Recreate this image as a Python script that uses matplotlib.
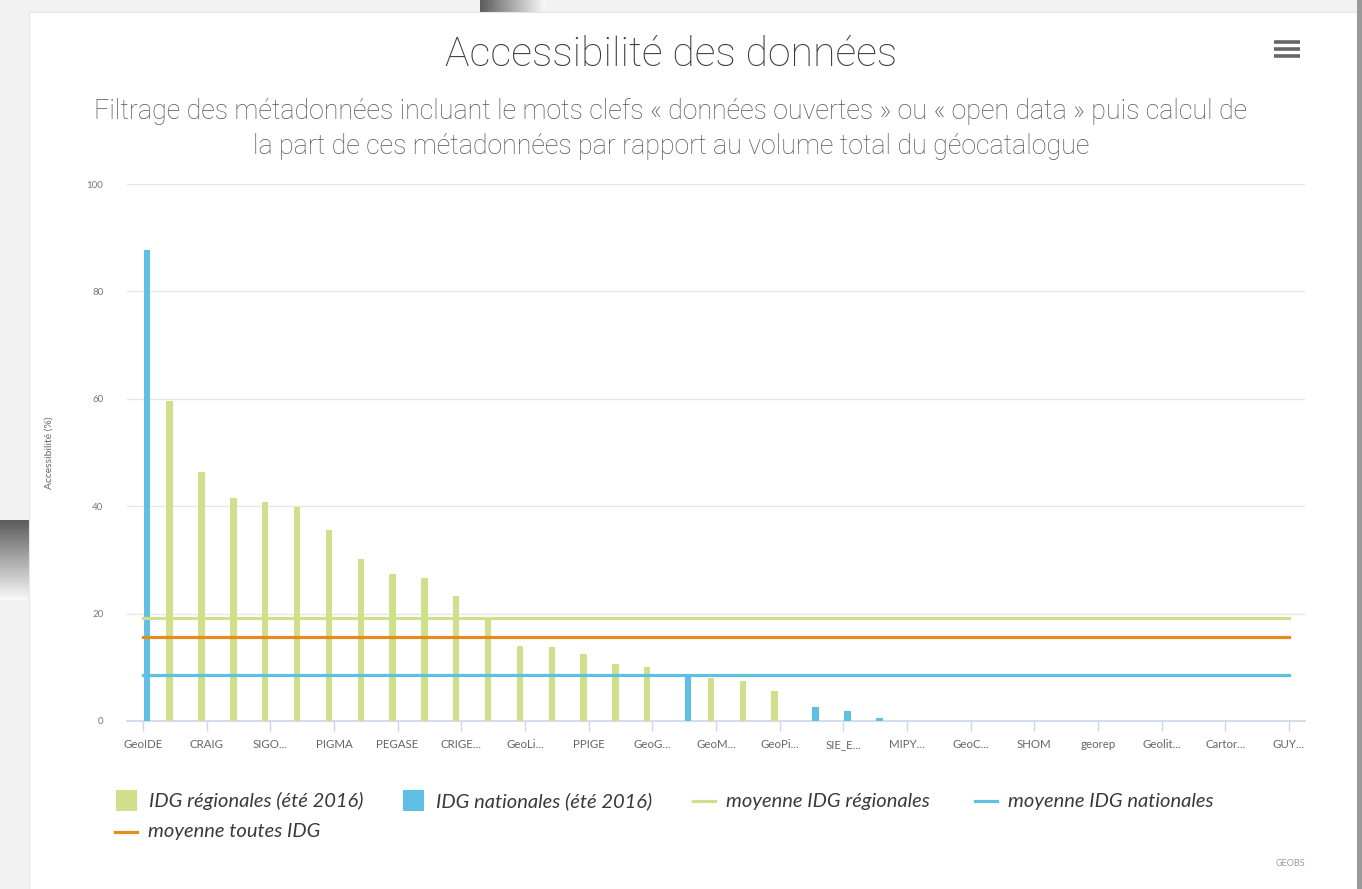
import numpy as np
import matplotlib.pyplot as plt
from matplotlib.patches import Rectangle
from matplotlib.lines import Line2D

plt.rcParams['font.family'] = ['Lato', 'DejaVu Sans']

# every other category label is shown on the axis (Highcharts step 2)
shown_labels = ['GeoIDE', 'CRAIG', 'SIGO...', 'PIGMA', 'PEGASE', 'CRIGE...', 'GeoLi...',
                'PPIGE', 'GeoG...', 'GeoM...', 'GeoPi...', 'SIE_E...', 'MIPY...', 'GeoC...',
                'SHOM', 'georep', 'Geolit...', 'Cartor...', 'GUY...']
n_cat = 37

# accessibility (%) per geocatalogue, nan where the IDG is of the other kind
regional = [np.nan, 59.6, 46.4, 41.6, 40.8, 39.8, 35.6, 30.2, 27.4, 26.7, 23.2, 19.4,
            13.9, 13.8, 12.5, 10.6, 10.1, np.nan, 8.0, 7.5, 5.6, np.nan, np.nan, np.nan,
            0, 0, 0, 0, 0, 0, np.nan, np.nan, np.nan, np.nan, np.nan, np.nan, np.nan]
national = [87.7, np.nan, np.nan, np.nan, np.nan, np.nan, np.nan, np.nan, np.nan, np.nan,
            np.nan, np.nan, np.nan, np.nan, np.nan, np.nan, np.nan, 8.5, np.nan, np.nan,
            np.nan, 2.7, 1.9, 0.5, np.nan, np.nan, np.nan, np.nan, np.nan, np.nan,
            0, 0, 0, 0, 0, 0, 0]
mean_regional = 19.1
mean_national = 8.6
mean_all = 15.7

green = '#cfe08b'
blue = '#5fc0e4'
orange = '#e58c1f'

W, H = 1362, 889
fig = plt.figure(figsize=(W / 100, H / 100), dpi=100)
fig.patch.set_facecolor('#f2f2f2')

# screenshot background: card, side bars, gradients
bg = fig.add_axes([0, 0, 1, 1], zorder=-5)
bg.axis('off')
grad = np.linspace(0, 1, 50)
bg.imshow(grad[None, :], extent=(480, 545, 12, 0), cmap='gray', vmin=-0.6, vmax=1.05,
          aspect='auto')
bg.imshow(grad[:, None], extent=(0, 29, 600, 520), cmap='gray', vmin=-0.6, vmax=1.05,
          aspect='auto')
bg.add_patch(Rectangle((29, 12), 1328, H - 12, facecolor='white', edgecolor='#e6e6e6', lw=0.8))
bg.add_patch(Rectangle((1357, 0), 5, H, facecolor='#9a9a9a', edgecolor='none'))
bg.set_xlim(0, W)
bg.set_ylim(H, 0)

# hamburger menu icon
for yy in (42, 49, 56):
    bg.add_line(Line2D([1274, 1300], [yy, yy], color='#666666', lw=2.6, solid_capstyle='butt'))

ax = fig.add_axes([127 / W, 1 - 721 / H, (1305 - 127) / W, (721 - 184) / H])
x = np.arange(n_cat)
ax.bar(x - 0.16, regional, width=0.2, color=green, zorder=3)
ax.bar(x + 0.13, national, width=0.2, color=blue, zorder=3)
ax.plot(x, [mean_regional] * n_cat, color=green, lw=2.3, zorder=4)
ax.plot(x, [mean_national] * n_cat, color=blue, lw=2.3, zorder=4)
ax.plot(x, [mean_all] * n_cat, color=orange, lw=2.3, zorder=4)

ax.set_xlim(-0.5, n_cat - 0.5)
ax.set_ylim(0, 100)
ax.set_yticks([0, 20, 40, 60, 80, 100])
ax.yaxis.grid(True, color='#e6e6e6', lw=1)
ax.set_axisbelow(True)
ax.tick_params(axis='y', length=0, pad=17, labelsize=7, labelcolor='#777777')
ax.set_xticks(x[::2])
ax.set_xticklabels(shown_labels, fontsize=8.3, color='#666666')
ax.tick_params(axis='x', length=7, width=1, color='#ccd6eb', pad=6)
for s in ('top', 'right', 'left'):
    ax.spines[s].set_visible(False)
ax.spines['bottom'].set_color('#ccd6eb')
ax.spines['bottom'].set_linewidth(1.2)
ax.set_ylabel('Accessibilité (%)', fontsize=7.5, color='#666666', labelpad=24)

thin = ['Roboto', 'DejaVu Sans']
fig.text(671 / W, 1 - 55 / H, 'Accessibilité des données', ha='center', va='center',
         fontsize=29.5, color='#3a3a3a', family=thin, fontweight='light')
fig.text(671 / W, 1 - 129 / H,
         'Filtrage des métadonnées incluant le mots clefs « données ouvertes » ou « open data » puis calcul de\n'
         'la part de ces métadonnées par rapport au volume total du géocatalogue',
         ha='center', va='center', fontsize=19.3, color='#555555', family=thin,
         fontweight='light', linespacing=1.35)

# legend
leg_items = [
    ('patch', green, 'IDG régionales (été 2016)', 116, 801),
    ('patch', blue, 'IDG nationales (été 2016)', 403, 801),
    ('line', green, 'moyenne IDG régionales', 693, 801),
    ('line', blue, 'moyenne IDG nationales', 975, 801),
    ('line', orange, 'moyenne toutes IDG', 115, 832),
]
for kind, col, label, px, py in leg_items:
    if kind == 'patch':
        bg.add_patch(Rectangle((px, py - 11), 21, 21, facecolor=col, edgecolor='none'))
    else:
        bg.add_line(Line2D([px, px + 22], [py, py], color=col, lw=2.3))
    bg.text(px + 33, py, label, ha='left', va='center', fontsize=14.5, style='italic',
            color='#3a3a3a')

fig.text(1305 / W, 1 - 863 / H, 'GEOBS', ha='right', va='center', fontsize=6.5,
         color='#999999')

fig.savefig('out.png', dpi=100, facecolor=fig.get_facecolor())
